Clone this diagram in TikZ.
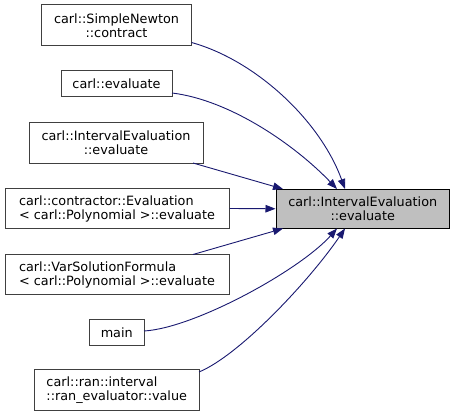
\documentclass[tikz,border=0pt]{standalone}
\usepackage{fontspec}
\setmainfont{DejaVu Sans}
\usetikzlibrary{arrows.meta}
\definecolor{edgeblue}{HTML}{191970}
\definecolor{boxgray}{HTML}{404040}
\definecolor{fillgray}{HTML}{BFBFBF}
\begin{document}
\begin{tikzpicture}[x=1pt,y=-1pt,
  box/.style={draw=boxgray, line width=1pt, fill=white, inner sep=0pt,
    font=\fontsize{12.8}{14}\selectfont, text=black},
  tgt/.style={box, draw=black, fill=fillgray},
  edge/.style={draw=edgeblue, line width=0.9pt, -{Triangle[length=10pt,width=7.5pt]}}]
\useasboundingbox (0,0) rectangle (455,417);
\node[box, minimum width=150pt, minimum height=40.5pt, align=center] (sn) at (116.5,25.25) {carl::SimpleNewton\\::contract};
\node[box, minimum width=111pt, minimum height=26pt] (ev) at (116.5,84) {carl::evaluate};
\node[box, minimum width=174pt, minimum height=40pt, align=center] (ie) at (116,143) {carl::IntervalEvaluation\\::evaluate};
\node[box, minimum width=224pt, minimum height=40pt, align=left] (ce) at (117,208.5) {carl::contractor::Evaluation\\< carl::Polynomial >::evaluate};
\node[box, minimum width=224pt, minimum height=40pt, align=left] (vs) at (117,274.5) {carl::VarSolutionFormula\\< carl::Polynomial >::evaluate};
\node[box, minimum width=54.5pt, minimum height=25.5pt] (mn) at (116.75,332.25) {main};
\node[box, minimum width=164.5pt, minimum height=41pt, align=left] (rv) at (116.75,390) {carl::ran::interval\\::ran\_evaluator::value};
\node[tgt, minimum width=173.5pt, minimum height=39.5pt, align=center] (t) at (362.75,208.75) {carl::IntervalEvaluation\\::evaluate};
\coordinate (sn1) at (191.5,42.5);
\coordinate (ev1) at (172,93);
\coordinate (ie1) at (193,163);
\coordinate (vs1) at (193,254.5);
\coordinate (mn1) at (144,331);
\coordinate (rv1) at (199,372);
\coordinate (tA) at (345,189);
\coordinate (tB) at (337,189);
\coordinate (tC) at (283,189);
\coordinate (tD) at (283,228.5);
\coordinate (tE) at (337,228.5);
\coordinate (tF) at (345,228.5);
\draw[edge] (sn1) .. controls (255,60) and (320,120) .. (tA);
\draw[edge] (ev1) .. controls (230,100) and (295,145) .. (tB);
\draw[edge] (ie1) -- (tC);
\draw[edge] (ce.east) -- (t.west);
\draw[edge] (vs1) -- (tD);
\draw[edge] (mn1) .. controls (195,328) and (300,270) .. (tE);
\draw[edge] (rv1) .. controls (240,355) and (310,280) .. (tF);
\end{tikzpicture}
\end{document}
